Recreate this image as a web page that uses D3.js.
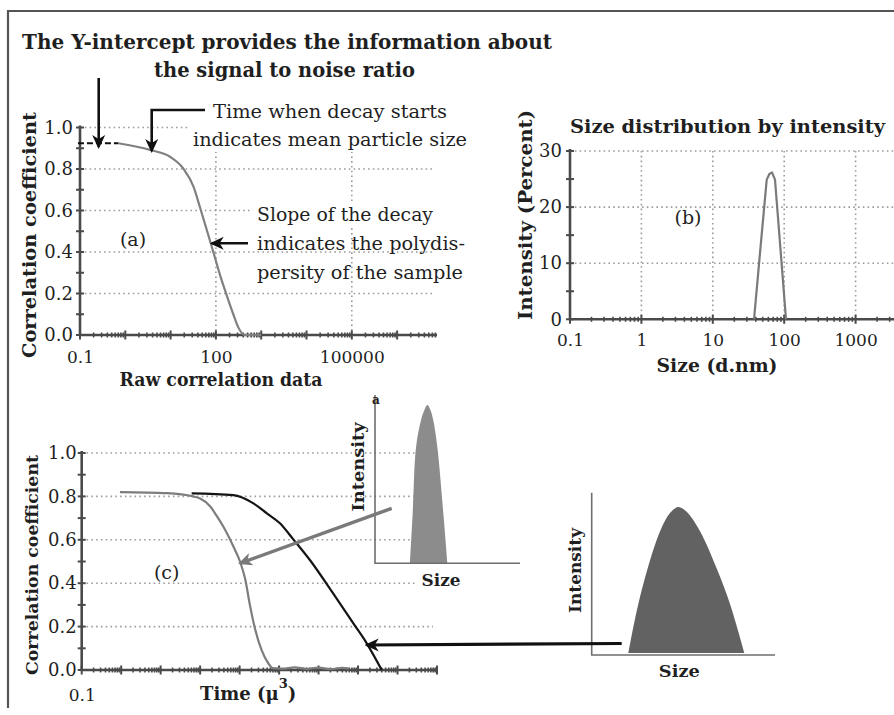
<!DOCTYPE html>
<html>
<head>
<meta charset="utf-8">
<script src="https://cdn.jsdelivr.net/npm/d3@7"></script>
<style>
  body { margin: 0; background: #fff; }
  svg { display: block; }
</style>
</head>
<body>
<svg id="fig" width="894" height="715"></svg>
<script>
// ---------- (a) raw correlation function ----------
const rawDelay       = [0.70, 3.5, 9.7, 19, 32, 45, 63, 88, 123, 174, 242, 310, 437, 1000];
const rawCorrelation = [0.924, 0.892, 0.859, 0.803, 0.715, 0.612, 0.506, 0.399, 0.29, 0.19, 0.10, 0.038, 0.0, 0.0];
const interceptDelay = [0.09, 0.70];
const interceptLevel = [0.924, 0.924];
const corrTicks      = [0, 0.2, 0.4, 0.6, 0.8, 1.0];
const corrMinor      = [0, 0.1, 0.2, 0.3, 0.4, 0.5, 0.6, 0.7, 0.8, 0.9, 1.0];
const rawDelayTicks  = [0.1, 100, 100000];
const rawDelayGrid   = [100, 100000];

// ---------- (b) size distribution by intensity ----------
const sizeNm         = [37.8, 45.8, 56.9, 62, 67.5, 74.3, 87.3, 106];
const intensityPct   = [0, 11.8, 24.9, 25.9, 26.2, 24.9, 13.6, 0];
const sizeTicks      = [0.1, 1, 10, 100, 1000];
const sizeGrid       = [1, 10, 100, 1000];
const intensityTicks = [0, 10, 20, 30];
const intensityMinor = [0, 5, 10, 15, 20, 25, 30];

// ---------- (c) small vs large particles ----------
const timeSmall = [0.93, 14.5, 66, 100, 178, 263, 389, 692, 1023, 1380, 1820, 2455, 3630, 5370, 7080,
                   12000, 25000, 50000, 100000, 200000, 400000, 600000];
const corrSmall = [0.82, 0.815, 0.80, 0.79, 0.755, 0.71, 0.66, 0.57, 0.50, 0.42, 0.30, 0.19, 0.09, 0.03, 0.008,
                   0.006, 0.012, 0.005, 0.011, 0.004, 0.010, 0.006];
const timeLarge = [61, 692, 2240, 4900, 10500, 22900, 60300, 234000, 760000, 1660000, 3980000];
const corrLarge = [0.814, 0.806, 0.768, 0.722, 0.676, 0.602, 0.507, 0.353, 0.215, 0.123, 0];
const timeTicks = [0.1];

// ---------- sketch distributions (arbitrary units) ----------
const narrowSize      = [2.41, 2.6, 2.83, 3.17, 3.4, 3.61, 3.83, 4.02, 4.3, 4.71, 4.99];
const narrowIntensity = [0, 0.30, 0.69, 0.85, 0.91, 0.94, 0.91, 0.85, 0.69, 0.30, 0];
const broadSize       = [2.0, 2.45, 3.0, 3.73, 4.27, 4.72, 5.18, 5.91, 6.82, 7.55, 8.33];
const broadIntensity  = [0, 0.255, 0.50, 0.75, 0.862, 0.90, 0.87, 0.75, 0.52, 0.30, 0];

const svg  = d3.select("#fig");
const FONT = "'DejaVu Serif', 'Liberation Serif', serif";
const INK  = "#1f1f1f";
const AXIS = "#4a4a4a";
const GRID = "#9c9c9c";

const zip = (xs, ys) => xs.map((x, i) => [x, ys[i]]);

// arrow heads
const defs = svg.append("defs");
function arrowHead(id, color) {
  defs.append("marker")
    .attr("id", id).attr("viewBox", "0 0 14 14")
    .attr("refX", 12).attr("refY", 7)
    .attr("markerWidth", 14).attr("markerHeight", 14)
    .attr("markerUnits", "userSpaceOnUse").attr("orient", "auto")
    .append("path").attr("d", "M0,0.5 L14,7 L0,13.5 L4,7 Z").attr("fill", color);
}
arrowHead("headBlack", "#111");
arrowHead("headGrey", "#7a7a7a");

function label(parent, s, x, y, o = {}) {
  const t = parent.append("text")
    .attr("font-family", FONT)
    .attr("font-size", o.size || 18)
    .attr("font-weight", o.bold ? "bold" : "normal")
    .attr("fill", o.fill || INK)
    .attr("text-anchor", o.anchor || "start");
  if (o.rotate) {
    t.attr("transform", `translate(${x},${y}) rotate(-90)`).attr("dominant-baseline", "central");
  } else {
    t.attr("x", x).attr("y", y);
  }
  t.text(s);
  if (o.len) t.attr("textLength", o.len).attr("lengthAdjust", "spacingAndGlyphs");
  return t;
}

function hGrid(g, y, values, x0, x1) {
  g.selectAll(null).data(values).join("line")
    .attr("x1", x0).attr("x2", x1)
    .attr("y1", d => y(d)).attr("y2", d => y(d))
    .attr("stroke", GRID).attr("stroke-width", 1.6).attr("stroke-dasharray", "1.6 3.2");
}
function vGrid(g, x, values, y0, y1) {
  g.selectAll(null).data(values).join("line")
    .attr("x1", d => x(d)).attr("x2", d => x(d))
    .attr("y1", y0).attr("y2", y1)
    .attr("stroke", GRID).attr("stroke-width", 1.6).attr("stroke-dasharray", "1.6 3.2");
}

function decadeTicks(scale) {
  const [a, b] = scale.domain();
  const out = [];
  for (let e = Math.floor(Math.log10(a)); e <= Math.ceil(Math.log10(b)); e++)
    for (let k = 1; k <= 9; k++) {
      const v = k * Math.pow(10, e);
      if (v >= a * 0.9999 && v <= b * 1.0001) out.push({ v, major: k === 1 });
    }
  return out;
}

function xAxisLog(g, x, yPix, xEnd, labels, pad) {
  g.append("line").attr("x1", x.range()[0] - 1).attr("x2", xEnd)
    .attr("y1", yPix).attr("y2", yPix).attr("stroke", AXIS).attr("stroke-width", 2.6);
  g.selectAll(null).data(decadeTicks(x).filter(t => x(t.v) <= xEnd + 0.5)).join("line")
    .attr("x1", d => x(d.v)).attr("x2", d => x(d.v))
    .attr("y1", d => yPix - (d.major ? 4.5 : 2.5)).attr("y2", d => yPix + (d.major ? 4.5 : 2.5))
    .attr("stroke", AXIS).attr("stroke-width", d => d.major ? 2 : 1.6);
  const ax = g.append("g").attr("transform", `translate(0,${yPix})`)
    .call(d3.axisBottom(x).tickValues(labels).tickFormat(d3.format("~g")).tickSize(0).tickPadding(pad));
  ax.select(".domain").remove();
  ax.attr("font-family", FONT).attr("font-size", 17);
  ax.selectAll("text").attr("fill", INK);
}

function yAxisLin(g, y, xPix, yTopPix, labels, minor, fmt, pad) {
  g.append("line").attr("x1", xPix).attr("x2", xPix)
    .attr("y1", y(y.domain()[0]) + 1).attr("y2", yTopPix).attr("stroke", AXIS).attr("stroke-width", 2.6);
  g.selectAll(null).data(minor).join("line")
    .attr("x1", xPix - 4).attr("x2", xPix + 4)
    .attr("y1", d => y(d)).attr("y2", d => y(d))
    .attr("stroke", AXIS).attr("stroke-width", 2);
  const ax = g.append("g").attr("transform", `translate(${xPix},0)`)
    .call(d3.axisLeft(y).tickValues(labels).tickFormat(fmt).tickSize(0).tickPadding(pad));
  ax.select(".domain").remove();
  ax.attr("font-family", FONT).attr("font-size", 18);
  ax.selectAll("text").attr("fill", INK);
}

// outer frame
svg.append("path").attr("d", "M8,708 V11 H894")
  .attr("fill", "none").attr("stroke", "#555").attr("stroke-width", 2.2);

// ================= panel (a) =================
const gA = svg.append("g");
const xA = d3.scaleLog().domain([0.1, 7e6]).range([80, 435.4]);
const yA = d3.scaleLinear().domain([0, 1]).range([335, 127.5]);

hGrid(gA, yA, corrTicks.slice(1), 80, 433);
vGrid(gA, xA, rawDelayGrid, yA(1), yA(0));
// text backgrounds
gA.append("rect").attr("x", 190).attr("y", 98).attr("width", 285).attr("height", 54).attr("fill", "#fff");
gA.append("rect").attr("x", 253).attr("y", 202).attr("width", 185).attr("height", 24).attr("fill", "#fff");

xAxisLog(gA, xA, yA(0), 437, rawDelayTicks, 16);
yAxisLin(gA, yA, 80, yA(1) - 2, corrTicks, corrMinor, d3.format(".1f"), 7);

gA.append("path").datum(zip(rawDelay, rawCorrelation))
  .attr("d", d3.line().x(d => xA(d[0])).y(d => yA(d[1])).curve(d3.curveMonotoneX))
  .attr("fill", "none").attr("stroke", "#808080").attr("stroke-width", 2.2);
gA.append("path").datum(zip(interceptDelay, interceptLevel))
  .attr("d", d3.line().x(d => xA(d[0])).y(d => yA(d[1])))
  .attr("fill", "none").attr("stroke", "#111").attr("stroke-width", 2.2).attr("stroke-dasharray", "6 3");

label(gA, "Correlation coefficient", 29, 235, { bold: true, size: 19, anchor: "middle", rotate: true, len: 246 });
label(gA, "Raw correlation data", 221, 386, { bold: true, size: 18, anchor: "middle", len: 203 });
label(gA, "(a)", 133, 246, { size: 19, anchor: "middle" });

label(gA, "The Y-intercept provides the information about", 22, 49, { bold: true, size: 20, len: 530 });
label(gA, "the signal to noise ratio", 154, 77, { bold: true, size: 20, len: 261 });
label(gA, "Time when decay starts", 213, 118, { size: 18, len: 234 });
label(gA, "indicates mean particle size", 193, 146, { size: 18, len: 274 });
label(gA, "Slope of the decay", 257, 221, { size: 18, len: 176 });
label(gA, "indicates the polydis-", 257, 250, { size: 18, len: 208 });
label(gA, "persity of the sample", 257, 279, { size: 18, len: 206 });

gA.append("path").attr("d", "M98.7,78 V147")
  .attr("fill", "none").attr("stroke", "#111").attr("stroke-width", 2.6).attr("marker-end", "url(#headBlack)");
gA.append("path").attr("d", "M205,110 H151.7 V151")
  .attr("fill", "none").attr("stroke", "#111").attr("stroke-width", 2.6).attr("marker-end", "url(#headBlack)");
gA.append("path").attr("d", "M248,243.3 H211.7")
  .attr("fill", "none").attr("stroke", "#111").attr("stroke-width", 2.6).attr("marker-end", "url(#headBlack)");

// ================= panel (b) =================
const gB = svg.append("g");
const xB = d3.scaleLog().domain([0.1, 1e4]).range([570, 927]);
const yB = d3.scaleLinear().domain([0, 30]).range([319.3, 151]);

hGrid(gB, yB, intensityTicks.slice(1), 570, 894);
vGrid(gB, xB, sizeGrid, yB(30), yB(0));
xAxisLog(gB, xB, yB(0), 894, sizeTicks, 15);
yAxisLin(gB, yB, 570, yB(30) - 2, intensityTicks, intensityMinor, d3.format("d"), 8);

gB.append("path").datum(zip(sizeNm, intensityPct))
  .attr("d", d3.line().x(d => xB(d[0])).y(d => yB(d[1])))
  .attr("fill", "none").attr("stroke", "#7a7a7a").attr("stroke-width", 2.2).attr("stroke-linejoin", "round");

label(gB, "Size distribution by intensity", 570, 133, { bold: true, size: 18, len: 315 });
label(gB, "Intensity (Percent)", 525, 215, { bold: true, size: 18, anchor: "middle", rotate: true, len: 210 });
label(gB, "Size (d.nm)", 717, 372, { bold: true, size: 18, anchor: "middle", len: 121 });
label(gB, "(b)", 688, 224, { size: 19, anchor: "middle" });

// ================= panel (c) =================
const gC = svg.append("g");
const xC = d3.scaleLog().domain([0.1, 1e8]).range([81.7, 437]);
const yC = d3.scaleLinear().domain([0, 1]).range([670, 453]);

hGrid(gC, yC, corrTicks.slice(1), 81.7, 433);
// white ground of the small sketch
gC.append("rect").attr("x", 416).attr("y", 388).attr("width", 116).attr("height", 207).attr("fill", "#fff");

xAxisLog(gC, xC, yC(0), 437, timeTicks, 19);
yAxisLin(gC, yC, 81.7, yC(1) - 2, corrTicks, corrMinor, d3.format(".1f"), 5);

gC.append("path").datum(zip(timeSmall, corrSmall))
  .attr("d", d3.line().x(d => xC(d[0])).y(d => yC(d[1])).curve(d3.curveMonotoneX))
  .attr("fill", "none").attr("stroke", "#7d7d7d").attr("stroke-width", 2.2);
gC.append("path").datum(zip(timeLarge, corrLarge))
  .attr("d", d3.line().x(d => xC(d[0])).y(d => yC(d[1])).curve(d3.curveMonotoneX))
  .attr("fill", "none").attr("stroke", "#141414").attr("stroke-width", 2.2);

label(gC, "Correlation coefficient", 31.7, 565, { bold: true, size: 17, anchor: "middle", rotate: true, len: 220 });
label(gC, "(c)", 166.7, 579, { size: 19, anchor: "middle" });
const tLab = label(gC, "", 200, 700, { bold: true, size: 18 });
tLab.append("tspan").text("Time (μ");
tLab.append("tspan").attr("dy", -12).attr("font-size", 13).text("3");
tLab.append("tspan").attr("dy", 12).text(")");

// small-particle sketch (narrow distribution)
const gI1 = svg.append("g");
const xI1 = d3.scaleLinear().domain([0, 10]).range([375, 520]);
const yI1 = d3.scaleLinear().domain([0, 1]).range([563.3, 395]);
gI1.append("path").datum(zip(narrowSize, narrowIntensity))
  .attr("d", d3.area().x(d => xI1(d[0])).y0(yI1(0)).y1(d => yI1(d[1])).curve(d3.curveCatmullRom))
  .attr("fill", "#8c8c8c");
gI1.append("path").attr("d", `M${xI1(0)},${yI1(1)} V${yI1(0)} H${xI1(10)}`)
  .attr("fill", "none").attr("stroke", "#6e6e6e").attr("stroke-width", 1.6);
label(gI1, "a", xI1(0) + 1, yI1(1) + 9, { bold: true, size: 12, anchor: "middle", fill: "#222" });
label(gI1, "Intensity", 358.3, 467, { bold: true, size: 16, anchor: "middle", rotate: true, len: 89 });
label(gI1, "Size", 441, 586, { bold: true, size: 16, anchor: "middle", len: 39 });

// large-particle sketch (broad distribution)
const gI2 = svg.append("g");
const xI2 = d3.scaleLinear().domain([0, 10]).range([591.7, 775]);
const yI2 = d3.scaleLinear().domain([0, 1]).range([655, 492.7]);
gI2.append("path").datum(zip(broadSize, broadIntensity))
  .attr("d", d3.area().x(d => xI2(d[0])).y0(yI2(0) - 2).y1(d => yI2(d[1]) - 2).curve(d3.curveCatmullRom))
  .attr("fill", "#626262");
gI2.append("path").attr("d", `M${xI2(0)},${yI2(1)} V${yI2(0)} H${xI2(10)}`)
  .attr("fill", "none").attr("stroke", "#6e6e6e").attr("stroke-width", 1.6);
label(gI2, "Intensity", 575, 570.5, { bold: true, size: 16, anchor: "middle", rotate: true, len: 85 });
label(gI2, "Size", 679.3, 677, { bold: true, size: 16, anchor: "middle", len: 41 });

// pointers from the sketches to their curves
svg.append("path").attr("d", "M391.7,508.3 L240,563.3")
  .attr("fill", "none").attr("stroke", "#7a7a7a").attr("stroke-width", 3.4).attr("marker-end", "url(#headGrey)");
svg.append("path").attr("d", "M621.7,643.5 L366.7,645")
  .attr("fill", "none").attr("stroke", "#111").attr("stroke-width", 3.2).attr("marker-end", "url(#headBlack)");
</script>
</body>
</html>
